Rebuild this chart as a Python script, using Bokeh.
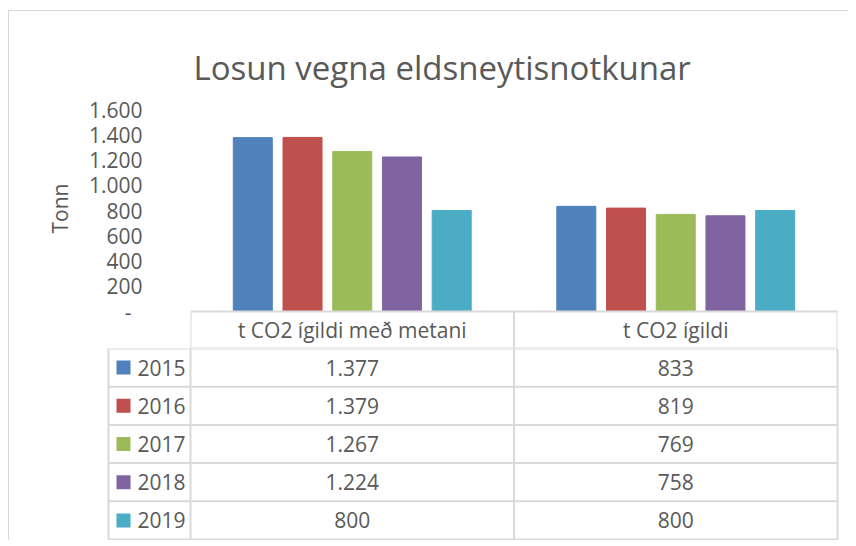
from bokeh.plotting import figure
from bokeh.models import ColumnDataSource, FactorRange, Range1d, FixedTicker, Title
from bokeh.transform import dodge
from bokeh.layouts import column
from bokeh.core.properties import value
from bokeh.embed import file_html
from bokeh.resources import INLINE

# ---------------- data ----------------
categories = ["t CO2 ígildi með metani", "t CO2 ígildi"]
years = ["2015", "2016", "2017", "2018", "2019"]
v2015 = [1377, 833]
v2016 = [1379, 819]
v2017 = [1267, 769]
v2018 = [1224, 758]
v2019 = [800, 800]
series = [v2015, v2016, v2017, v2018, v2019]
y_ticks = [0, 200, 400, 600, 800, 1000, 1200, 1400, 1600]
y_tick_labels = ["-\u00a0\u00a0", "200", "400", "600", "800", "1.000", "1.200", "1.400", "1.600"]
colors = ["#4F81BD", "#C0504D", "#9BBB59", "#8064A2", "#4BACC6"]

TITLE = "Losun vegna eldsneytisnotkunar"
Y_LABEL = "Tonn"

# ---------------- style ----------------
FONT = "Open Sans"
TXT = "#595959"
GRID = "#d9d9d9"
FS = "21px"

W = 839
FRAME_L = 181
FRAME_R = 828
FRAME_T = 98
PLOT_PX = 202        # pixel height of the 0..1600 value range
HEAD_PX = 37         # pixel height of the table header row (inside the bar frame)
YMAX = y_ticks[-1]
u_per_px = YMAX / PLOT_PX
H_TOP = FRAME_T + PLOT_PX + HEAD_PX
ROW_PX = 38.2
n = len(years)
H_TAB = int(round(n * ROW_PX)) + 1

src = ColumnDataSource(dict(cat=categories, **{y: s for y, s in zip(years, series)}))

y_bottom = -HEAD_PX * u_per_px
p = figure(width=W, height=H_TOP,
           x_range=FactorRange(*categories, range_padding=0),
           y_range=Range1d(y_bottom, YMAX),
           x_axis_location=None,
           output_backend="svg", toolbar_location=None,
           min_border_left=FRAME_L, min_border_right=W - FRAME_R,
           min_border_top=FRAME_T, min_border_bottom=0,
           outline_line_color=None, title=TITLE)
p.grid.visible = False
p.frame_align = False

p.title.align = "left"
p.title.offset = 3
p.title.standoff = 39
p.title.text_font = FONT
p.title.text_font_size = "33px"
p.title.text_font_style = "normal"
p.title.text_color = TXT

ax = p.yaxis[0]
ax.ticker = FixedTicker(ticks=y_ticks)
ax.major_label_overrides = {t: l for t, l in zip(y_ticks, y_tick_labels)}
ax.major_label_text_font = FONT
ax.major_label_text_font_size = FS
ax.major_label_text_color = TXT
ax.major_tick_in = 0
ax.major_tick_out = 0
ax.minor_tick_in = 0
ax.minor_tick_out = 0
ax.axis_line_color = None
ax.major_label_standoff = 48

# axis title, placed beside the value range (0..1600), not the header row
p.add_layout(Title(text=Y_LABEL, align="left", offset=HEAD_PX + PLOT_PX / 2 - 23, standoff=24,
                   text_font=FONT, text_font_size=FS, text_font_style="normal",
                   text_color=TXT), "left")

step = 0.1537
bw = 0.1206
for i, (yr, c) in enumerate(zip(years, colors)):
    p.vbar(x=dodge("cat", (i - (n - 1) / 2) * step, range=p.x_range), top=yr, width=bw,
           source=src, fill_color=c, line_color=c)

# table header row (category names) inside the bar frame
ncat = len(categories)
p.segment(x0=[0] + list(range(ncat + 1)), y0=[0] + [0] * (ncat + 1),
          x1=[ncat] + list(range(ncat + 1)), y1=[0] + [y_bottom] * (ncat + 1),
          line_color=GRID, line_width=2)
p.segment(x0=[0], y0=[y_bottom], x1=[ncat], y1=[y_bottom], line_color=GRID, line_width=2)
p.text(x=categories, y=[y_bottom / 2] * ncat, text=categories,
       text_font=value(FONT), text_font_size=FS, text_color=TXT,
       text_align="center", text_baseline="middle")

# ---------------- data table body ----------------
t = figure(width=W, height=H_TAB, x_range=Range1d(0, W), y_range=Range1d(H_TAB, 0),
           x_axis_location=None, y_axis_location=None,
           output_backend="svg", toolbar_location=None,
           min_border=0, outline_line_color=None)
t.grid.visible = False
t.frame_align = False

px_per_cat = (FRAME_R - FRAME_L) / ncat
col_edges = [FRAME_L + k * px_per_cat for k in range(ncat + 1)]
cat_centers = [FRAME_L + (k + 0.5) * px_per_cat for k in range(ncat)]
LEG_L = 99
row_edges = [k * ROW_PX for k in range(n + 1)]
row_centers = [(k + 0.5) * ROW_PX for k in range(n)]

x0s, y0s, x1s, y1s = [], [], [], []
for ye in row_edges:
    x0s.append(LEG_L); y0s.append(ye); x1s.append(col_edges[-1]); y1s.append(ye)
for xe in [LEG_L] + col_edges:
    x0s.append(xe); y0s.append(0); x1s.append(xe); y1s.append(row_edges[-1])
t.segment(x0=x0s, y0=y0s, x1=x1s, y1=y1s, line_color=GRID, line_width=2)

vx, vy, vt = [], [], []
for r, s in enumerate(series):
    for k, v in enumerate(s):
        vx.append(cat_centers[k]); vy.append(row_centers[r]); vt.append(f"{v:,}".replace(",", "."))
t.text(x=vx, y=vy, text=vt, text_font=value(FONT), text_font_size=FS, text_color=TXT,
       text_align="center", text_baseline="middle")

t.scatter(x=[LEG_L + 15] * n, y=row_centers, marker="square", size=14,
          fill_color=colors, line_color=None)
t.text(x=[LEG_L + 29] * n, y=row_centers, text=years, text_font=value(FONT),
       text_font_size=FS, text_color=TXT, text_align="left", text_baseline="middle")

layout = column(p, t, margin=(10, 0, 0, 8),
                styles={"border-left": f"1px solid {GRID}", "border-top": f"1px solid {GRID}"})

open("out.html", "w").write(file_html(layout, INLINE))
